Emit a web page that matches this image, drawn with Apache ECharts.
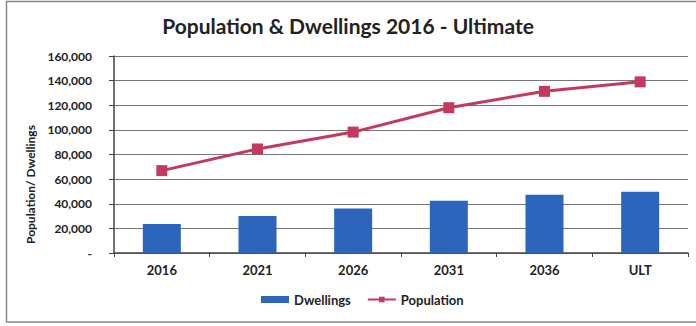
<!DOCTYPE html>
<html>
<head>
<meta charset="utf-8">
<script src="https://cdn.jsdelivr.net/npm/echarts@6/dist/echarts.min.js"></script>
<style>
  html, body { margin: 0; padding: 0; background: #fff; }
  #chart { width: 696px; height: 326px; }
</style>
</head>
<body>
<div id="chart"></div>
<script>
var categories = ['2016', '2021', '2026', '2031', '2036', 'ULT'];
var dwellings = [23600, 30100, 36100, 42400, 47300, 49700];
var population = [66900, 84500, 98200, 118000, 131300, 139000];

var blue = '#2e65bc';
var red = '#c6395f';
var ink = '#222';
var gridLine = '#777';

var chart = echarts.init(document.getElementById('chart'), null, { renderer: 'svg' });
chart.setOption({
  animation: false,
  textStyle: { fontFamily: 'Lato' },
  title: {
    text: 'Population & Dwellings 2016 - Ultimate',
    left: 'center',
    top: 10,
    textStyle: { fontFamily: 'Lato', fontWeight: 'bold', fontSize: 21, color: ink }
  },
  graphic: [{
    type: 'rect',
    shape: { x: 6.5, y: 1.5, width: 700, height: 320.5 },
    style: { fill: 'none', stroke: '#888', lineWidth: 1.5 },
    silent: true
  }],
  legend: {
    bottom: 15,
    left: 256,
    itemWidth: 28,
    itemHeight: 7,
    itemGap: 16,
    textStyle: { fontFamily: 'Lato', fontWeight: 'bold', fontSize: 13, color: ink },
    data: [
      { name: 'Dwellings', icon: 'rect' },
      { name: 'Population' }
    ]
  },
  grid: { left: 114, right: 8, top: 56, bottom: 73 },
  xAxis: {
    type: 'category',
    data: categories,
    axisLine: { lineStyle: { color: '#444', width: 1.5 } },
    axisTick: { show: true, length: 4, lineStyle: { color: '#444' } },
    axisLabel: { fontFamily: 'Lato', fontWeight: 'bold', fontSize: 13, color: ink, margin: 10 }
  },
  yAxis: {
    type: 'value',
    min: 0,
    max: 160000,
    interval: 20000,
    name: 'Population/ Dwellings',
    nameLocation: 'middle',
    nameGap: 71,
    nameTextStyle: {
      fontFamily: 'Lato', fontWeight: 'bold', fontSize: 12, color: ink,
      padding: [0, 60, 0, 0]
    },
    axisLine: { show: true, lineStyle: { color: '#444', width: 1.5 } },
    axisTick: { show: true, length: 5, lineStyle: { color: '#444' } },
    axisLabel: {
      fontFamily: 'Lato', fontWeight: 'bold', fontSize: 12, color: ink, margin: 22,
      formatter: function (v) { return v === 0 ? '-' : v.toLocaleString('en-US'); }
    },
    splitLine: { lineStyle: { color: gridLine, width: 1 } }
  },
  series: [
    {
      name: 'Dwellings',
      type: 'bar',
      data: dwellings,
      barWidth: 38,
      itemStyle: { color: blue }
    },
    {
      name: 'Population',
      type: 'line',
      data: population,
      symbol: 'rect',
      symbolSize: 11,
      lineStyle: { color: red, width: 3 },
      itemStyle: { color: red }
    }
  ]
});
</script>
</body>
</html>
